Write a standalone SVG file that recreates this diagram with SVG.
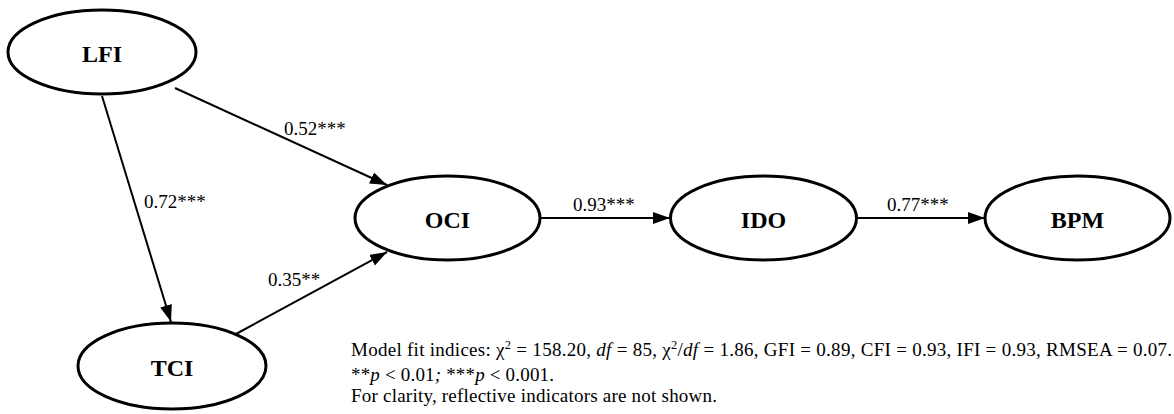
<svg xmlns="http://www.w3.org/2000/svg" width="1174" height="414" viewBox="0 0 1174 414">
<style>
.node ellipse{fill:#fff;stroke:#000;stroke-width:3}
.edge line{stroke:#000;stroke-width:2;marker-end:url(#ah)}
</style>
<defs>
<marker id="ah" markerUnits="userSpaceOnUse" markerWidth="18" markerHeight="14" refX="17" refY="6" orient="auto">
<path d="M0,0 L17,6 L0,12 z" fill="#000"/>
</marker>
</defs>
<rect width="1174" height="414" fill="#fff"/>
<g id="connectors" class="edge">
<line x1="175" y1="88" x2="387" y2="185"/>
<line x1="102" y1="96" x2="171" y2="322"/>
<line x1="236" y1="334" x2="387" y2="252"/>
<line x1="540" y1="218" x2="670" y2="218"/>
<line x1="857" y1="218" x2="985" y2="218"/>
</g>
<g id="edge-labels" font-family="Liberation Serif" font-size="19" fill="#000">
<text x="284" y="135">0.52***</text>
<text x="144" y="208">0.72***</text>
<text x="268" y="286">0.35**</text>
<text x="573" y="211">0.93***</text>
<text x="887" y="211">0.77***</text>
</g>
<g font-family="Liberation Serif" font-weight="bold" font-size="24" text-anchor="middle" fill="#000">
<g id="LFI" class="node"><ellipse cx="102" cy="52" rx="94" ry="42"/><text x="102" y="62">LFI</text></g>
<g id="TCI" class="node"><ellipse cx="172" cy="366" rx="94" ry="43"/><text x="172" y="376">TCI</text></g>
<g id="OCI" class="node"><ellipse cx="447.5" cy="218" rx="92.5" ry="42"/><text x="447.5" y="228">OCI</text></g>
<g id="IDO" class="node"><ellipse cx="763.5" cy="218" rx="93" ry="42"/><text x="763.5" y="228">IDO</text></g>
<g id="BPM" class="node"><ellipse cx="1077.5" cy="218" rx="92.5" ry="42"/><text x="1077.5" y="228">BPM</text></g>
</g>
<g id="notes" font-family="Liberation Serif" font-size="19" fill="#000">
<text x="351" y="356" textLength="821" lengthAdjust="spacing">Model fit indices: χ<tspan font-size="12.5" dy="-7">2</tspan><tspan dy="7"> = 158.20, </tspan><tspan font-style="italic">df</tspan> = 85, χ<tspan font-size="12.5" dy="-7">2</tspan><tspan dy="7">/</tspan><tspan font-style="italic">df</tspan> = 1.86, GFI = 0.89, CFI = 0.93, IFI = 0.93, RMSEA = 0.07.</text>
<text x="351" y="381" textLength="203" lengthAdjust="spacing">**<tspan font-style="italic">p</tspan> &lt; 0.01<tspan font-style="italic">;</tspan> ***<tspan font-style="italic">p</tspan> &lt; 0.001.</text>
<text x="351" y="402" textLength="366" lengthAdjust="spacing">For clarity, reflective indicators are not shown.</text>
</g>
</svg>
